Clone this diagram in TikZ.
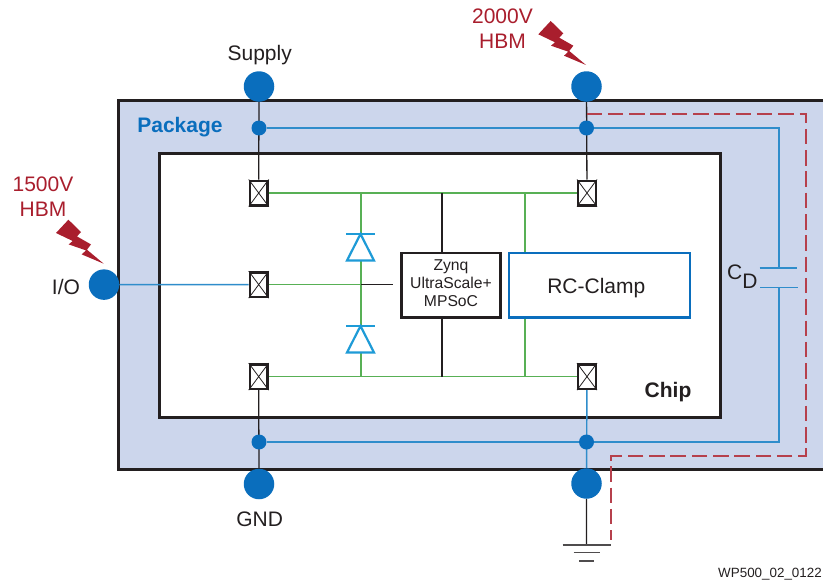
\documentclass[tikz,border=0pt]{standalone}
\usepackage{fontspec}
\setmainfont{Liberation Sans}
\pgfdeclarelayer{base}
\pgfdeclarelayer{wires}
\pgfsetlayers{base,wires,main}
\definecolor{pkgfill}{HTML}{CCD6EC}
\definecolor{bigblue}{HTML}{0A6EBD}
\definecolor{linkblue}{HTML}{2F8DCB}
\definecolor{diodeblue}{HTML}{1E9BD7}
\definecolor{greenl}{HTML}{58B055}
\definecolor{boltred}{HTML}{A91E2D}
\definecolor{ink}{HTML}{231F20}
\tikzset{
  x=1pt,y=-1pt,
  bigdot/.style={circle,fill=bigblue,minimum size=30.5pt,inner sep=0pt},
  smalldot/.style={circle,fill=bigblue,minimum size=15pt,inner sep=0pt},
  padbox/.style={draw=ink,line width=2.4pt,fill=white,minimum width=17.6pt,minimum height=24.6pt,inner sep=0pt},
  blackline/.style={draw=ink,line width=1.3pt},
  blueline/.style={draw=linkblue,line width=1.4pt},
  greenline/.style={draw=greenl,line width=1.4pt},
  redpath/.style={draw=boltred!85!white,line width=1.2pt,dash pattern=on 15.5pt off 5.8pt},
  label/.style={font=\fontsize{21}{24}\selectfont,text=ink,inner sep=0pt},
  hbm/.style={font=\fontsize{21}{25}\selectfont,text=boltred,align=center,inner sep=0pt},
  diode/.style={draw=diodeblue,line width=2.2pt,fill=white,line join=miter},
}
\newcommand{\boltshape}[2]{%
  \fill[boltred,shift={(#1,#2)}] (0,0)--(12.4,-13.3)--(25,-1)--(21,3.4)--(35,11.4)--(31,16.7)--(47.7,30.7)--(25.7,21.4)--(30,17.4)--(12.7,11.4)--(16.7,8)--cycle;}
\begin{document}
\begin{tikzpicture}
\useasboundingbox (0,0) rectangle (823,581);
% package and chip
\begin{pgfonlayer}{base}
\fill[pkgfill] (118,100) rectangle (823,469.5);
\draw[draw=ink,line width=3pt] (823,100) -- (118,100) -- (118,469.5) -- (823,469.5);
\filldraw[fill=white,draw=ink,line width=3pt] (159.3,153.5) rectangle (720.5,417.3);
\end{pgfonlayer}
% terminals and junctions
\node[bigdot] (sup) at (259,86.5) {};
\node[bigdot] (vcc) at (586.5,86.5) {};
\node[bigdot] (io) at (104,284.6) {};
\node[bigdot] (gnd) at (259,484) {};
\node[bigdot] (gnd2) at (586.5,483.5) {};
\node[smalldot] (j1) at (259,128) {};
\node[smalldot] (j2) at (586.5,128) {};
\node[smalldot] (j3) at (259,442) {};
\node[smalldot] (j4) at (586.5,442) {};
\node[padbox] (p1) at (258.7,193) {};
\node[padbox] (p2) at (587,193) {};
\node[padbox] (p3) at (258.7,284.6) {};
\node[padbox] (p4) at (258.7,376.6) {};
\node[padbox] (p5) at (587,376.6) {};
\foreach \p in {p1,p2,p3,p4,p5}{
  \draw[ink,line width=0.8pt] (\p.north west) -- (\p.south east) (\p.north east) -- (\p.south west);
}
\node[draw=ink,line width=2.6pt,fill=white,minimum width=99pt,minimum height=64.5pt,inner sep=0pt,align=center,text=ink,font=\fontsize{15.7}{18.3}\selectfont] (soc) at (451,285.2) {Zynq\\UltraScale+\\MPSoC\rule[-4pt]{0pt}{4pt}};
\node[draw=bigblue,line width=2.6pt,fill=white,minimum width=181pt,minimum height=64.5pt,inner sep=0pt,text=ink,font=\fontsize{21}{24}\selectfont] (rc) at (599.3,285.2) {\hspace*{-6pt}\rule{0pt}{21pt}RC-Clamp};
% free ends
\coordinate (gt1) at (361,193); \coordinate (gt2) at (442,193); \coordinate (gt3) at (525,193);
\coordinate (gb1) at (361,376.6); \coordinate (gb2) at (442,376.6); \coordinate (gb3) at (525,376.6);
\coordinate (gm) at (361,284.6); \coordinate (gme) at (393,284.6);
\coordinate (capn) at (779,128); \coordinate (caps) at (779,442);
\coordinate (capa) at (779,268); \coordinate (capb) at (779,287.3);
\coordinate (gr) at (586.5,545);
\coordinate (ra) at (586.5,114); \coordinate (rb) at (806,114); \coordinate (rc1) at (806,456); \coordinate (rd) at (611,456); \coordinate (re) at (611,540);
% connectors
\begin{pgfonlayer}{wires}
\draw[greenline] (p1) -- (p2) (p4) -- (p5) (p3) -- (gm) (gt1) -- (gb1) (gt3) -- (rc.north -| gt3) (gb3) -- (rc.south -| gb3);
\draw[blackline] (gm) -- (gme) (gt2) -- (soc.north -| gt2) (gb2) -- (soc.south -| gb2);
\draw[blackline] (sup) -- (p1) (vcc) -- (p2) (p4) -- (gnd) (gnd2) -- (gr);
\draw[blueline] (io) -- (p3) (p5) -- (gnd2);
\draw[blueline] (j1) -- (capn) -- (capa) (capb) -- (caps) -- (j3);
\draw[redpath] (ra) -- (rb) -- (rc1) -- (rd) -- (re);
\end{pgfonlayer}
\draw[draw=linkblue,line width=1.4pt] (759.5,268) -- (797,268);
\draw[draw=linkblue,line width=1.4pt] (760,287.3) -- (797.5,287.3);
% ground
\draw[draw=ink!80,line width=1.2pt] (562.5,545) -- (611,545) (573.5,552.7) -- (600,552.7) (579,561) -- (594,561);
% diodes
\foreach \t/\b in {234/260.5,326/352.5}{
  \draw[diode] (360.5,\t) -- (347,\b) -- (374,\b) -- cycle;
  \draw[diode] (346,\t) -- (375,\t);
}
% bolts
\boltshape{538.3}{34.3}
\boltshape{56}{233}
% labels
\node[label] (tsup) at (259.7,55) {Supply};
\node[label] (tio) at (66,287) {I/O};
\node[label] (tgnd) at (259.7,519) {GND};
\node[hbm] (h1) at (502.5,29) {2000V\\HBM};
\node[hbm] (h2) at (43,197) {1500V\\HBM};
\node[font=\bfseries\fontsize{21}{24}\selectfont,text=bigblue,inner sep=0pt] (tpk) at (180,127.5) {Package};
\node[font=\bfseries\fontsize{21}{24}\selectfont,text=ink,inner sep=0pt] (tch) at (668,392.5) {Chip};
\node[font=\fontsize{21}{24}\selectfont,text=ink,inner sep=0pt,anchor=west] (tcd) at (727,277) {C\raisebox{-9pt}{D}};
\node[font=\fontsize{13.4}{15}\selectfont,text=ink,inner sep=0pt,anchor=east] (tid) at (822,574) {WP500\_02\_0122};
\end{tikzpicture}
\end{document}
